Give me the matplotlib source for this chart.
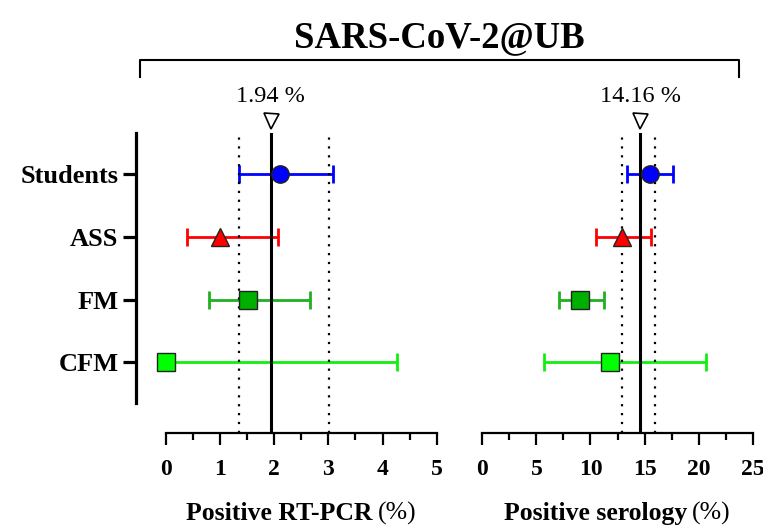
"""
Forest plot: positive RT-PCR and serology by group (SARS-CoV-2@UB)
"""
import numpy as np
import matplotlib
matplotlib.use("Agg")
import matplotlib.pyplot as plt
from matplotlib.lines import Line2D
from matplotlib.ticker import MultipleLocator

plt.rcParams["font.family"] = ["Liberation Serif", "DejaVu Serif"]

# ── data ─────────────────────────────────────────────────────
groups = ["Students", "ASS", "FM", "CFM"]
markers = ["o", "^", "s", "s"]
face_colors = ["#0000ff", "#ff0000", "#00b000", "#00ff00"]
bar_colors = ["#0000ff", "#ff0000", "#20b020", "#10f010"]

# RT-PCR (%)
pcr_est = [2.10, 1.00, 1.52, 0.00]
pcr_lo = [1.36, 0.40, 0.80, 0.00]
pcr_hi = [3.09, 2.07, 2.67, 4.27]
pcr_overall = 1.94
pcr_ci = [1.36, 3.02]
pcr_ticks = [0, 1, 2, 3, 4, 5]

# serology (%)
sero_est = [15.5, 12.9, 9.0, 11.8]
sero_lo = [13.35, 10.5, 7.05, 5.75]
sero_hi = [17.6, 15.6, 11.25, 20.65]
sero_overall = 14.6
sero_ci = [12.9, 16.0]
sero_ticks = [0, 5, 10, 15, 20, 25]

overall_labels = ["1.94 %", "14.16 %"]
xlabels_bold = ["Positive RT-PCR", "Positive serology"]

# ── layout (pixels of a 763x526 canvas) ─────────────────────
W, H = 763, 526
PX = 100 / 72  # px per point


def rect(x0, x1, ytop, ybot):
    return [x0 / W, 1 - ybot / H, (x1 - x0) / W, (ybot - ytop) / H]


fig = plt.figure(figsize=(W / 100, H / 100), dpi=100)
ax1 = fig.add_axes(rect(165.7, 436.7, 133, 433))
ax2 = fig.add_axes(rect(482.3, 752.7, 133, 433))

ypos = np.arange(len(groups))
YTOP, YBOT = -0.659, 4.128

panels = [
    (ax1, pcr_est, pcr_lo, pcr_hi, pcr_overall, pcr_ci, pcr_ticks, 0.5),
    (ax2, sero_est, sero_lo, sero_hi, sero_overall, sero_ci, sero_ticks, 2.5),
]

for k, (ax, est, lo, hi, overall, ci, ticks, minor) in enumerate(panels):
    ax.set_xlim(ticks[0], ticks[-1])
    ax.set_ylim(YBOT, YTOP)

    # overall estimate + CI
    ax.axvline(overall, color="black", lw=2.2, zorder=2)
    for c in ci:
        ax.axvline(c, color="black", lw=1.6, ls=(0, (1, 3)), zorder=2)

    # group estimates
    for i in range(len(groups)):
        e = est[i]
        ax.errorbar(e, ypos[i], xerr=[[e - lo[i]], [hi[i] - e]], fmt="none",
                    ecolor=bar_colors[i], elinewidth=2, capsize=6.5, capthick=2,
                    zorder=1)
        ax.plot(e, ypos[i], marker=markers[i], ms=12.5, mfc=face_colors[i],
                mec="#222222", mew=1, ls="none", zorder=4, clip_on=False)

    # marker + label above
    ax.plot(overall, -0.854, marker="v", ms=10.8, mfc="white", mec="black",
            mew=1.2, clip_on=False)
    ax.text(overall, -1.158, overall_labels[k], ha="center", va="baseline",
            fontsize=17.5)

    # axes
    ax.spines["top"].set_visible(False)
    ax.spines["right"].set_visible(False)
    ax.spines["bottom"].set_linewidth(1.6)
    ax.spines["bottom"].set_bounds(ticks[0], ticks[-1])
    ax.set_xticks(ticks, [str(t) for t in ticks], fontsize=17, fontweight="bold")
    ax.xaxis.set_minor_locator(MultipleLocator(minor))
    ax.tick_params(axis="x", which="major", length=8.5, width=1.6, pad=10)
    ax.tick_params(axis="x", which="minor", length=5, width=1.6)

# left panel y axis, detached
ax1.spines["left"].set_position(("outward", 30 / PX))
ax1.spines["left"].set_linewidth(2.3)
ax1.spines["left"].set_bounds(YTOP, 3.65)
ax1.set_yticks(ypos, groups, fontsize=19, fontweight="bold")
ax1.tick_params(axis="y", length=9.4, width=2.3, pad=3)

ax2.spines["left"].set_visible(False)
ax2.set_yticks([])

# x labels: bold text + plain "(%)"
renderer = fig.canvas.get_renderer()
for ax, bold_text in zip([ax1, ax2], xlabels_bold):
    bb = ax.get_window_extent(renderer)
    cx = (bb.x0 + bb.x1) / 2
    t1 = fig.text(0, 1 - 520 / H, bold_text, fontsize=18.5, fontweight="bold",
                  va="baseline")
    t2 = fig.text(0, 1 - 520 / H, "(%)", fontsize=18.5, va="baseline")
    w1 = t1.get_window_extent(renderer).width
    w2 = t2.get_window_extent(renderer).width
    gap = 5
    x0 = cx - (w1 + gap + w2) / 2
    t1.set_x(x0 / W)
    t2.set_x((x0 + w1 + gap) / W)

# title + bracket
fig.text(439 / W, 1 - 47.4 / H, "SARS-CoV-2@UB", ha="center", va="baseline",
         fontsize=26.5, fontweight="bold")
bx = np.array([140, 140, 738.5, 738.5]) / W
by = 1 - np.array([77, 60, 60, 77]) / H
fig.add_artist(Line2D(bx, by, transform=fig.transFigure, color="black", lw=1.5,
                      solid_joinstyle="round"))

fig.savefig("out.png", dpi=100)
